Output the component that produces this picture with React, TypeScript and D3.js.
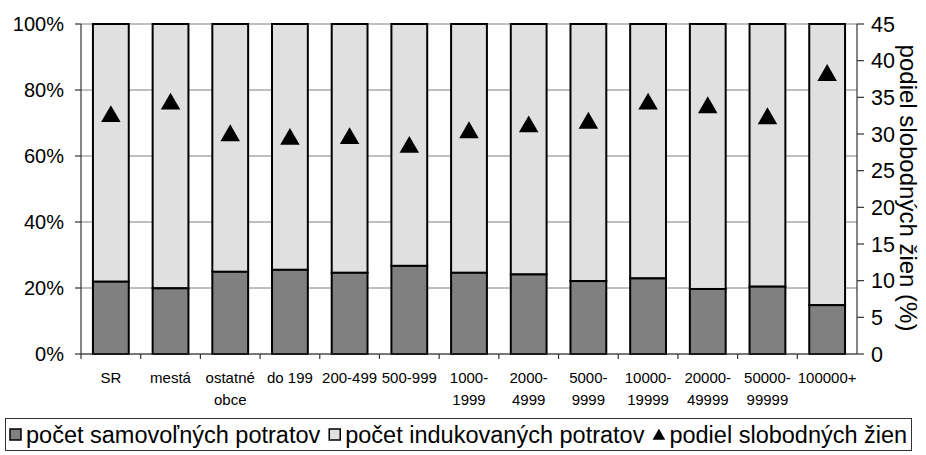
import React, { useLayoutEffect, useRef } from "react";
import * as d3 from "d3";

const categories: string[][] = [
  ["SR"], ["mestá"], ["ostatné", "obce"], ["do 199"], ["200-499"], ["500-999"],
  ["1000-", "1999"], ["2000-", "4999"], ["5000-", "9999"], ["10000-", "19999"],
  ["20000-", "49999"], ["50000-", "99999"], ["100000+"],
];
const spontaneous: number[] = [21.9, 19.9, 24.9, 25.5, 24.6, 26.7, 24.6, 24.1, 22.1, 22.9, 19.7, 20.4, 14.8];
const singleShare: number[] = [32.6, 34.3, 30.0, 29.5, 29.6, 28.4, 30.4, 31.2, 31.7, 34.3, 33.8, 32.3, 38.2];
const leftTicks: number[] = [0, 20, 40, 60, 80, 100];
const rightTicks: number[] = [0, 5, 10, 15, 20, 25, 30, 35, 40, 45];
const legendLabels: string[] = ["počet samovoľných potratov", "počet indukovaných potratov", "podiel slobodných žien"];

const W = 926, H = 455;
const X0 = 81, X1 = 857, YT = 24, YB = 354;
const FONT = "'Liberation Sans', Arial, Helvetica, sans-serif";
const DARK = "#808080", LIGHT = "#e0e0e0";
const LEG_FS = 23.5;

export default function App() {
  const legRef = useRef<SVGGElement>(null);
  const idx = categories.map((_, i) => String(i));
  const x = d3.scaleBand<string>().domain(idx).range([X0, X1]).paddingInner(0.4).paddingOuter(0.2);
  const xb = d3.scaleBand<string>().domain(idx).range([X0, X1]);
  const yL = d3.scaleLinear().domain([0, 100]).range([YB, YT]);
  const yR = d3.scaleLinear().domain([0, 45]).range([YB, YT]);
  const tri = d3.symbol().type(d3.symbolTriangle).size(165)();
  const legTri = d3.symbol().type(d3.symbolTriangle).size(70)();

  useLayoutEffect(() => {
    const g = d3.select(legRef.current);
    let cx = 9;
    const gap = 8;
    g.selectAll<SVGGElement, unknown>("g.item").each(function () {
      const item = d3.select(this);
      const t = item.select<SVGTextElement>("text").node()!;
      item.attr("transform", `translate(${cx},0)`);
      cx += 17 + t.getComputedTextLength() + gap;
    });
  }, []);

  return (
    <svg width={W} height={H} style={{ position: "absolute", left: 0, top: 0, fontFamily: FONT }}>
      <rect x={0} y={0} width={W} height={H} fill="#fff" />
      {leftTicks.map((t) => (
        <line key={"g" + t} x1={X0} x2={X1} y1={yL(t)} y2={yL(t)} stroke="#808080" strokeWidth={1} />
      ))}
      {categories.map((_, i) => {
        const bx = x(String(i))!;
        const bw = x.bandwidth();
        return (
          <g key={"b" + i}>
            <rect x={bx} y={yL(100)} width={bw} height={yL(spontaneous[i]) - yL(100)} fill={LIGHT} stroke="#000" strokeWidth={2} />
            <rect x={bx} y={yL(spontaneous[i])} width={bw} height={yL(0) - yL(spontaneous[i])} fill={DARK} stroke="#000" strokeWidth={2} />
          </g>
        );
      })}
      {categories.map((_, i) => (
        <path key={"t" + i} d={tri!} fill="#000"
          transform={`translate(${x(String(i))! + x.bandwidth() / 2},${yR(singleShare[i]) + 1.5})`} />
      ))}
      <line x1={X0} x2={X0} y1={YT} y2={YB} stroke="#333" strokeWidth={1.2} />
      {leftTicks.map((t) => (
        <g key={"l" + t}>
          <line x1={X0 - 6} x2={X0} y1={yL(t)} y2={yL(t)} stroke="#333" strokeWidth={1.2} />
          <text x={64} y={yL(t)} dy="0.36em" textAnchor="end" fontSize={20} fill="#000">{t}%</text>
        </g>
      ))}
      <line x1={X1} x2={X1} y1={YT} y2={YB} stroke="#333" strokeWidth={1.2} />
      {rightTicks.map((t) => (
        <g key={"r" + t}>
          <line x1={X1} x2={X1 + 7} y1={yR(t)} y2={yR(t)} stroke="#333" strokeWidth={1.2} />
          <text x={871} y={yR(t)} dy="0.36em" textAnchor="start" fontSize={21.5} fill="#000">{t}</text>
        </g>
      ))}
      <text transform={`translate(908,188) rotate(90)`} textAnchor="middle" dy="0.35em" fontSize={24} fill="#000">
        podiel slobodných žien (%)
      </text>
      <line x1={X0} x2={X1} y1={YB} y2={YB} stroke="#333" strokeWidth={1.2} />
      {categories.map((_, i) => (
        <line key={"xt" + i} x1={xb(String(i))!} x2={xb(String(i))!} y1={YB} y2={YB + 5} stroke="#333" strokeWidth={1.2} />
      ))}
      {categories.map((lines, i) => (
        <text key={"xl" + i} textAnchor="middle" fontSize={15} fill="#000">
          {lines.map((ln, j) => (
            <tspan key={j} x={xb(String(i))! + xb.bandwidth() / 2} y={383 + j * 22}>{ln}</tspan>
          ))}
        </text>
      ))}
      <rect x={5.5} y={418.5} width={906} height={32} fill="#fff" stroke="#333" strokeWidth={1} />
      <g ref={legRef} fontSize={LEG_FS}>
        <g className="item">
          <rect x={1} y={429} width={11} height={11} fill={DARK} stroke="#000" strokeWidth={1.5} />
          <text x={17} y={443} fill="#000">{legendLabels[0]}</text>
        </g>
        <g className="item">
          <rect x={1} y={429} width={11} height={11} fill={LIGHT} stroke="#000" strokeWidth={1.5} />
          <text x={17} y={443} fill="#000">{legendLabels[1]}</text>
        </g>
        <g className="item">
          <path d={legTri!} transform="translate(6.5,436)" fill="#000" />
          <text x={17} y={443} fill="#000">{legendLabels[2]}</text>
        </g>
      </g>
    </svg>
  );
}
